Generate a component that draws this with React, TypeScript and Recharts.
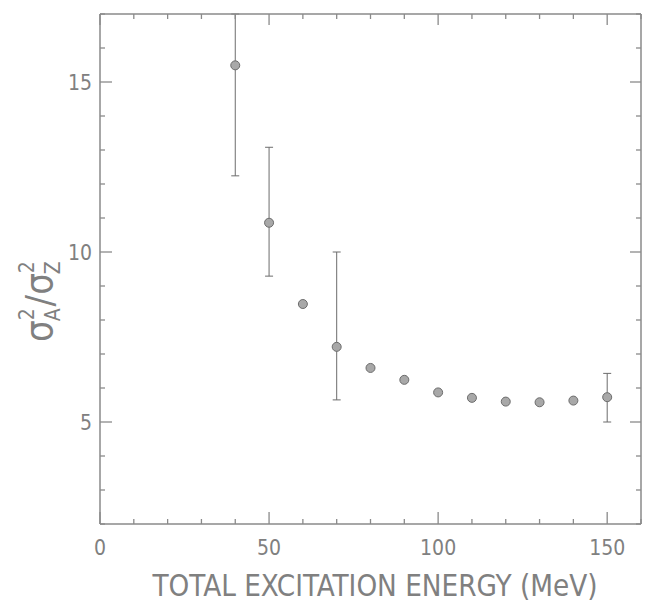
import { ScatterChart, Scatter, XAxis, YAxis, ErrorBar, Label } from 'recharts'

// sigma_A^2 / sigma_Z^2 vs total excitation energy
const energies = [40, 50, 60, 70, 80, 90, 100, 110, 120, 130, 140, 150]
const ratios = [15.49, 10.86, 8.47, 7.21, 6.59, 6.24, 5.87, 5.71, 5.6, 5.58, 5.63, 5.73]
// the 40 MeV bar runs off the top of the frame
const errLow = [3.25, 1.57, null, 1.56, null, null, null, null, null, null, null, 0.73]
const errHigh = [1.51, 2.22, null, 2.79, null, null, null, null, null, null, null, 0.7]

const xTicks = [0, 10, 20, 30, 40, 50, 60, 70, 80, 90, 100, 110, 120, 130, 140, 150, 160]
const xLabelTicks = [0, 50, 100, 150]
const yTicks = [2, 3, 4, 5, 6, 7, 8, 9, 10, 11, 12, 13, 14, 15, 16, 17]
const yLabelTicks = [5, 10, 15]

const GREY = '#8a8a8a'
const TEXT = '#808080'
const FONT = '"DejaVu Sans Condensed", "DejaVu Sans", sans-serif'

const points = energies.map((e, i) => ({ x: e, y: ratios[i] }))
const errPoints = energies
  .map((e, i) => ({ x: e, y: ratios[i], err: [errLow[i], errHigh[i]] }))
  .filter((p, i) => errLow[i] != null)

function BottomTick({ x, y, payload }: any) {
  const major = xLabelTicks.includes(payload.value)
  const ax = Number(x)
  const ay = Number(y)
  return (
    <g>
      <path d={`M${ax},${ay}v${major ? -12 : -5}`} stroke={GREY} strokeWidth={1.3} fill="none" />
      {major && (
        <text x={ax} y={ay + 31} textAnchor="middle" fontSize={21} fill={TEXT} fontFamily={FONT}>
          {payload.value}
        </text>
      )}
    </g>
  )
}

function TopTick({ x, y, payload }: any) {
  const major = xLabelTicks.includes(payload.value)
  return <path d={`M${Number(x)},${Number(y)}v${major ? 11 : 5}`} stroke={GREY} strokeWidth={1.3} fill="none" />
}

function LeftTick({ x, y, payload }: any) {
  const major = yLabelTicks.includes(payload.value)
  const ax = Number(x)
  const ay = Number(y)
  return (
    <g>
      <path d={`M${ax},${ay}h${major ? 12 : 5}`} stroke={GREY} strokeWidth={1.3} fill="none" />
      {major && (
        <text x={ax - 8} y={ay + 8} textAnchor="end" fontSize={21} fill={TEXT} fontFamily={FONT}>
          {payload.value}
        </text>
      )}
    </g>
  )
}

function RightTick({ x, y, payload }: any) {
  const major = yLabelTicks.includes(payload.value)
  return <path d={`M${Number(x)},${Number(y)}h${major ? -11 : -5}`} stroke={GREY} strokeWidth={1.3} fill="none" />
}

function XTitle({ viewBox }: any) {
  const cx = viewBox.x + viewBox.width / 2 + 4
  return (
    <text x={cx - 222} y={viewBox.y + 72} fontSize={30} fill={TEXT} fontFamily={FONT}
      fontWeight={300} textLength={445} lengthAdjust="spacingAndGlyphs">
      TOTAL EXCITATION ENERGY (MeV)
    </text>
  )
}

function YTitle() {
  const cx = 40
  const cy = 288
  return (
    <text transform={`rotate(-90, ${cx}, ${cy})`} x={cx - 54} y={cy + 12} fontSize={38}
      fill={TEXT} fontFamily={FONT} fontWeight={300}>
      σ
      <tspan fontSize={21} dy={-18}>2</tspan>
      <tspan fontSize={21} dx={-13} dy={26}>A</tspan>
      <tspan fontSize={38} dx={2} dy={-8}>/</tspan>
      <tspan fontSize={38}>σ</tspan>
      <tspan fontSize={21} dy={-18}>2</tspan>
      <tspan fontSize={21} dx={-13} dy={26}>Z</tspan>
    </text>
  )
}

const Dot = ({ cx, cy }: any) => (
  <circle cx={cx} cy={cy} r={4.5} fill="#a8a8a8" stroke="#6c6c6c" strokeWidth={1} />
)

export default function App() {
  return (
    <div style={{ position: 'absolute', left: 0, top: 0, width: 645, height: 602, background: '#fff' }}>
      <ScatterChart width={645} height={602} margin={{ top: 13, right: 3, bottom: 48, left: 0 }}>
        <XAxis xAxisId="bottom" type="number" dataKey="x" domain={[0, 160]} ticks={xTicks}
          interval={0} height={30} tickSize={0} tickMargin={0} tick={<BottomTick />}
          axisLine={{ stroke: GREY, strokeWidth: 1.5 }} allowDataOverflow
          label={<Label content={<XTitle />} />} />
        <XAxis xAxisId="top" orientation="top" type="number" dataKey="x" domain={[0, 160]} ticks={xTicks}
          interval={0} height={1} tickSize={0} tickMargin={0} tick={<TopTick />}
          axisLine={{ stroke: GREY, strokeWidth: 1.5 }} allowDataOverflow />
        <YAxis yAxisId="left" type="number" dataKey="y" domain={[2, 17]} ticks={yTicks}
          interval={0} width={100} tickSize={0} tickMargin={0} tick={<LeftTick />}
          axisLine={{ stroke: GREY, strokeWidth: 1.5 }} allowDataOverflow
          label={<Label content={<YTitle />} />} />
        <YAxis yAxisId="right" orientation="right" type="number" dataKey="y" domain={[2, 17]} ticks={yTicks}
          interval={0} width={1} tickSize={0} tickMargin={0} tick={<RightTick />}
          axisLine={{ stroke: GREY, strokeWidth: 1.5 }} allowDataOverflow />
        <Scatter xAxisId="bottom" yAxisId="left" data={errPoints} shape={() => <g />} isAnimationActive={false}>
          <ErrorBar dataKey="err" direction="y" width={4} stroke="#6c6c6c" strokeWidth={1} isAnimationActive={false} />
        </Scatter>
        <Scatter xAxisId="bottom" yAxisId="left" data={points} shape={<Dot />} isAnimationActive={false} />
        <Scatter xAxisId="top" yAxisId="right" data={points} shape={() => <g />} isAnimationActive={false} />
      </ScatterChart>
    </div>
  )
}
